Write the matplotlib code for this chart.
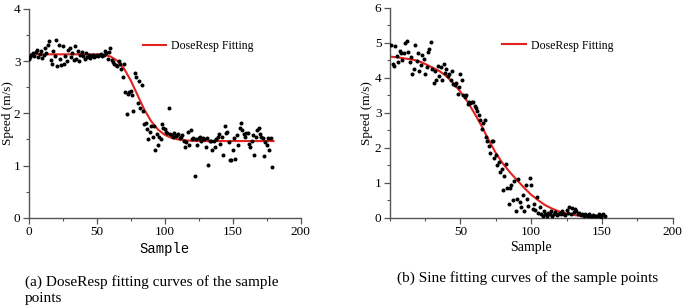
import numpy as np
import matplotlib.pyplot as plt
from matplotlib.ticker import MultipleLocator

# (a) DoseResp - sample points, x = 0..179
a_x = np.arange(180)
a_y = [3.05, 3.08, 3.12, 3.15, 3.10, 3.18, 3.22, 3.08, 3.14, 3.20,
       3.06, 3.12, 3.26, 3.16, 3.30, 3.38, 3.02, 2.95, 3.20, 3.10,
       3.40, 2.90, 3.30, 3.05, 2.92, 3.28, 2.95, 3.10, 3.00, 3.22,
       3.25, 3.08, 3.15, 3.02, 3.28, 3.05, 3.20, 3.00, 3.12, 3.18,
       3.10, 3.04, 3.15, 3.08, 3.12, 3.06, 3.10, 3.12, 3.08, 3.10,
       3.12, 3.10, 3.11, 3.13, 3.09, 3.12, 3.20, 3.15, 3.05, 3.18,
       3.26, 3.02, 2.98, 2.95, 2.92, 2.90, 3.00, 2.94, 2.85, 2.70,
       2.95, 2.40, 1.98, 2.38, 2.40, 2.42, 2.35, 2.05, 2.78, 2.70,
       2.20, 2.62, 2.10, 2.55, 2.05, 1.80, 1.82, 1.70, 1.50, 1.65,
       1.75, 1.55, 1.75, 1.30, 1.60, 1.40, 1.55, 1.50, 1.80, 1.72,
       1.70, 1.65, 1.62, 2.10, 1.60, 1.58, 1.55, 1.62, 1.57, 1.58,
       1.60, 1.52, 1.55, 1.58, 1.48, 1.35, 1.45, 1.65, 1.40, 1.68,
       1.50, 1.52, 0.80, 1.50, 1.40, 1.52, 1.55, 1.48, 1.52, 1.50,
       1.35, 1.52, 1.02, 1.48, 1.48, 1.30, 1.48, 1.35, 1.50, 1.55,
       1.60, 1.42, 1.55, 1.20, 1.75, 1.62, 1.65, 1.45, 1.10, 1.10,
       1.30, 1.52, 1.12, 1.58, 1.40, 1.72, 1.82, 1.68, 1.60, 1.55,
       1.62, 1.62, 1.42, 1.35, 1.48, 1.58, 1.20, 1.55, 1.68, 1.72,
       1.60, 1.55, 1.52, 1.18, 1.45, 1.40, 1.52, 1.30, 1.52, 0.97]

# (a) fitted curve, every 5 samples
a_fit_x = np.arange(0, 185, 5)
a_fit_y = [3.13] * 11 + [3.12, 3.09, 3.01, 2.86, 2.63, 2.35, 2.07, 1.85, 1.69,
                         1.59, 1.53, 1.50, 1.485, 1.475] + [1.47] * 12

# (b) Sine - sample points, x = 1..152
b_x = np.arange(1, 153)
b_y = [4.95, 4.40, 4.35, 4.92, 4.62, 4.45, 4.78, 4.70, 4.52, 4.72,
       5.00, 5.05, 4.75, 4.45, 4.60, 4.10, 4.25, 4.95, 4.48, 4.72,
       4.20, 4.38, 4.65, 4.55, 4.10, 4.30, 4.75, 4.82, 5.02, 4.25,
       3.85, 4.20, 3.95, 4.35, 4.05, 4.30, 3.95, 4.40, 4.15, 4.25,
       4.05, 4.10, 3.95, 4.20, 3.82, 3.80, 3.85, 3.55, 3.75, 4.10,
       3.95, 3.50, 3.45, 3.50, 3.25, 3.30, 3.28, 3.32, 3.30, 3.20,
       3.15, 3.05, 2.95, 2.80, 2.55, 2.72, 2.80, 2.30, 2.20, 2.05,
       1.85, 2.20, 2.20, 1.70, 1.80, 1.50, 1.60, 1.30, 1.40, 0.80,
       1.20, 1.55, 0.85, 0.40, 0.85, 0.95, 0.50, 1.05, 0.20, 0.55,
       1.10, 0.45, 0.30, 0.65, 0.20, 0.95, 0.55, 0.35, 1.15, 0.95,
       0.25, 0.40, 0.22, 0.60, 0.15, 0.30, 0.10, 0.05, 0.20, 0.12,
       0.05, 0.15, 0.10, 0.20, 0.05, 0.12, 0.18, 0.08, 0.10, 0.15,
       0.12, 0.20, 0.10, 0.08, 0.22, 0.15, 0.30, 0.10, 0.28, 0.18,
       0.25, 0.20, 0.10, 0.15, 0.08, 0.12, 0.05, 0.10, 0.08, 0.05,
       0.12, 0.06, 0.04, 0.08, 0.05, 0.04, 0.05, 0.10, 0.03, 0.08,
       0.12, 0.05]

b_fit_x = np.arange(0, 155, 5)
b_fit_y = [4.61, 4.59, 4.56, 4.53, 4.49, 4.40, 4.30, 4.20, 4.05, 3.85,
           3.60, 3.32, 2.98, 2.62, 2.22, 1.85, 1.55, 1.30, 1.08, 0.86,
           0.66, 0.50, 0.36, 0.26, 0.18, 0.12, 0.08, 0.06, 0.04, 0.03, 0.03]

plt.rcParams['font.family'] = ['Liberation Serif', 'DejaVu Serif']
red = '#e3231f'
spine_col = '#555555'


def style_axes(ax):
    for s in ['top', 'right']:
        ax.spines[s].set_visible(False)
    for s in ['left', 'bottom']:
        ax.spines[s].set_color(spine_col)
        ax.spines[s].set_linewidth(1.0)
    ax.tick_params(which='major', direction='out', length=4, width=0.9,
                   color=spine_col, labelsize=9.5, pad=2)
    ax.tick_params(which='minor', direction='out', length=2, width=0.8,
                   color=spine_col)


fig = plt.figure(figsize=(6.85, 3.06), dpi=100)

# left panel
ax1 = fig.add_axes([0.042, 0.288, 0.397, 0.683])
ax1.scatter(a_x, a_y, s=3.5, color='black', zorder=3)
ax1.plot(a_fit_x, a_fit_y, color=red, lw=1.5, label='DoseResp Fitting', zorder=2)
ax1.set_xlim(0, 200)
ax1.set_ylim(0, 4)
ax1.xaxis.set_major_locator(MultipleLocator(50))
ax1.xaxis.set_minor_locator(MultipleLocator(25))
ax1.yaxis.set_major_locator(MultipleLocator(1))
ax1.yaxis.set_minor_locator(MultipleLocator(0.5))
style_axes(ax1)
ax1.set_ylabel('Speed (m/s)', fontsize=9.5)
ax1.yaxis.set_label_coords(-0.056, 0.5)
ax1.set_xlabel('Sample', fontsize=10, family=['Liberation Mono'], labelpad=3)
ax1.legend(loc='upper left', bbox_to_anchor=(0.38, 0.9), frameon=False,
           fontsize=8.5, handlelength=2.0, handletextpad=0.4)

# right panel
ax2 = fig.add_axes([0.569, 0.288, 0.413, 0.686])
ax2.scatter(b_x, b_y, s=3.5, color='black', zorder=3)
ax2.plot(b_fit_x, b_fit_y, color=red, lw=1.5, label='DoseResp Fitting', zorder=2)
ax2.set_xlim(0, 200)
ax2.set_ylim(0, 6)
ax2.set_xticks([50, 100, 150, 200])
ax2.xaxis.set_minor_locator(MultipleLocator(25))
ax2.yaxis.set_major_locator(MultipleLocator(1))
ax2.yaxis.set_minor_locator(MultipleLocator(0.5))
style_axes(ax2)
ax2.set_ylabel('Speed (m/s)', fontsize=9.5)
ax2.yaxis.set_label_coords(-0.06, 0.5)
ax2.set_xlabel('Sample', fontsize=10, labelpad=2)
ax2.legend(loc='upper left', bbox_to_anchor=(0.36, 0.9), frameon=False,
           fontsize=8.5, handlelength=2.0, handletextpad=0.4)

# captions
fig.text(0.036, 0.052, '(a) DoseResp fitting curves of the sample\npoints',
         fontsize=11, ha='left', va='center', linespacing=1.25)
fig.text(0.77, 0.09, '(b) Sine fitting curves of the sample points',
         fontsize=11, ha='center', va='center')

fig.savefig('out.png', dpi=100)
